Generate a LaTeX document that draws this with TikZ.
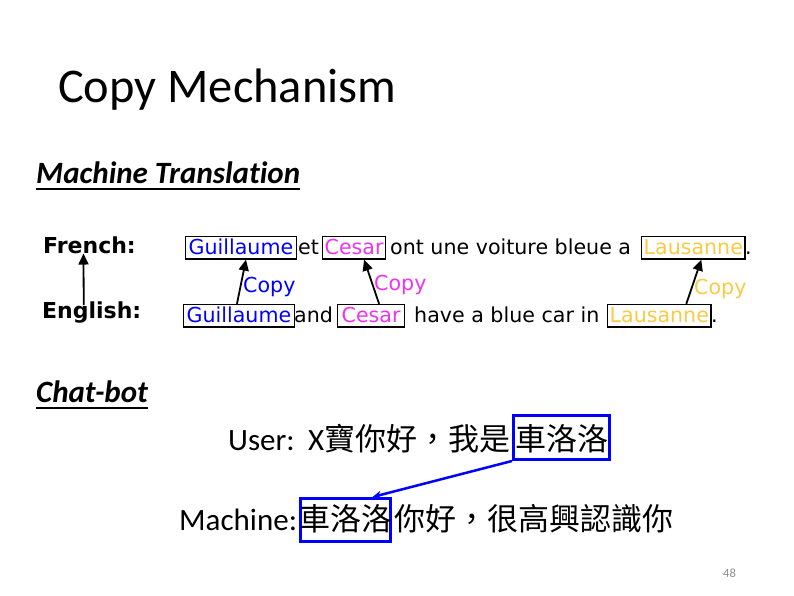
\documentclass[tikz,border=0pt]{standalone}
\usepackage{fontspec}
\setmainfont{Carlito}[Ligatures=NoCommon]
\newfontfamily\dv{DejaVu Sans}
\newfontfamily\cjk{Noto Sans CJK TC}
\usetikzlibrary{arrows.meta}
\definecolor{cblue}{HTML}{0000FF}
\definecolor{cmag}{HTML}{EE33EE}
\definecolor{cyel}{HTML}{F9CA45}
\definecolor{pgnum}{HTML}{8C8C8C}
\begin{document}
\begin{tikzpicture}[x=1pt,y=-1pt,
  txt/.style={inner sep=0pt, anchor=base west},
  mt/.style={txt, font=\dv\fontsize{20.6}{24}\selectfont},
  lab/.style={txt, font=\dv\bfseries\fontsize{22}{26}\selectfont},
  wbox/.style={mt, draw=black, line width=1.3pt, inner xsep=2pt, inner ysep=0.5pt, text height=17pt, text depth=4.5pt},
  cparrow/.style={-{Triangle[length=11pt,width=10pt]}, line width=1.8pt, black},
  head/.style={txt, font=\bfseries\itshape\fontsize{31}{37}\selectfont},
  chat/.style={txt, font=\fontsize{31}{37}\selectfont},
  cj/.style={txt, font=\cjk\fontsize{31}{37}\selectfont},
  cbox/.style={cj, draw=cblue, line width=3pt, inner xsep=1.5pt, inner ysep=0pt},
  ]
\useasboundingbox (0,0) rectangle (794,596);

% title and headings
\node[txt, font=\fontsize{48.4}{58}\selectfont] (title) at (58,103) {Copy Mechanism};
\node[head] (mth) at (36,183) {Machine Translation};
\draw[line width=1.3pt] ([yshift=-6pt]mth.base west) -- ([yshift=-6pt]mth.base east);
\node[head] (chb) at (36,402) {Chat-bot};
\draw[line width=1.3pt] ([yshift=-6pt]chb.base west) -- ([yshift=-6pt]chb.base east);

% language labels
\node[lab] (french) at (43,253) {French:};
\node[lab] (english) at (42,318) {English:};
\draw[cparrow] ([xshift=-8pt,yshift=-4pt]english.north) -- ([xshift=-6pt]french.south);

% French row
\node[wbox, inner xsep=3pt, text=cblue] (g1) at (185,254) {Guillaume};
\node[mt] (et) at (298,254) {et};
\node[wbox, text=cmag] (c1) at (322,254) {Cesar};
\node[mt] (ont) at (390,254) {ont une voiture bleue a};
\node[wbox, text=cyel] (l1) at (641,254) {Lausanne};
\node[mt] (dot1) at (745,254) {.};

% English row
\node[wbox, inner xsep=3pt, text=cblue] (g2) at (183,322) {Guillaume};
\node[mt] (and) at (294,322) {and};
\node[wbox, inner xsep=4pt, text=cmag] (c2) at (337,322) {Cesar};
\node[mt] (have) at (414,322) {have a blue car in};
\node[wbox, text=cyel] (l2) at (607,322) {Lausanne};
\node[mt] (dot2) at (711,322) {.};

% copy arrows
\draw[cparrow] ([xshift=-2pt]g2.north) -- ([xshift=5pt]g1.south);
\draw[cparrow] ([xshift=8pt]c2.north) -- ([xshift=10pt]c1.south);
\draw[cparrow] ([xshift=27pt]l2.north) -- ([xshift=8pt]l1.south);
\node[mt, text=cblue] (cp1) at (243,292) {Copy};
\node[mt, text=cmag] (cp2) at (374,290) {Copy};
\node[mt, text=cyel] (cp3) at (694,294) {Copy};

% chat-bot
\node[chat] (user) at (228,450) {User:};
\node[chat] (xx) at (308,450) {X};
\node[cj] (ucjk) at (324,450) {寶你好，我是};
\node[cbox, text height=34.5pt, text depth=9.5pt] (ub) at (512,450) {車洛洛};
\node[chat] (mach) at (179,530) {Machine:};
\node[cbox, inner xsep=-1.5pt, text height=31.5pt, text depth=11.5pt] (mb) at (299,530) {車洛洛};
\node[cj] (mrest) at ([xshift=2pt]mb.base east) {你好，很高興認識你};
\draw[cblue, line width=2.5pt, -{Stealth[length=9pt,width=8pt]}] (ub.south west) -- ([xshift=27pt]mb.north);

% page number
\node[txt, font=\fontsize{12.5}{15}\selectfont, text=pgnum] (pg) at (723,577) {48};
\end{tikzpicture}
\end{document}
